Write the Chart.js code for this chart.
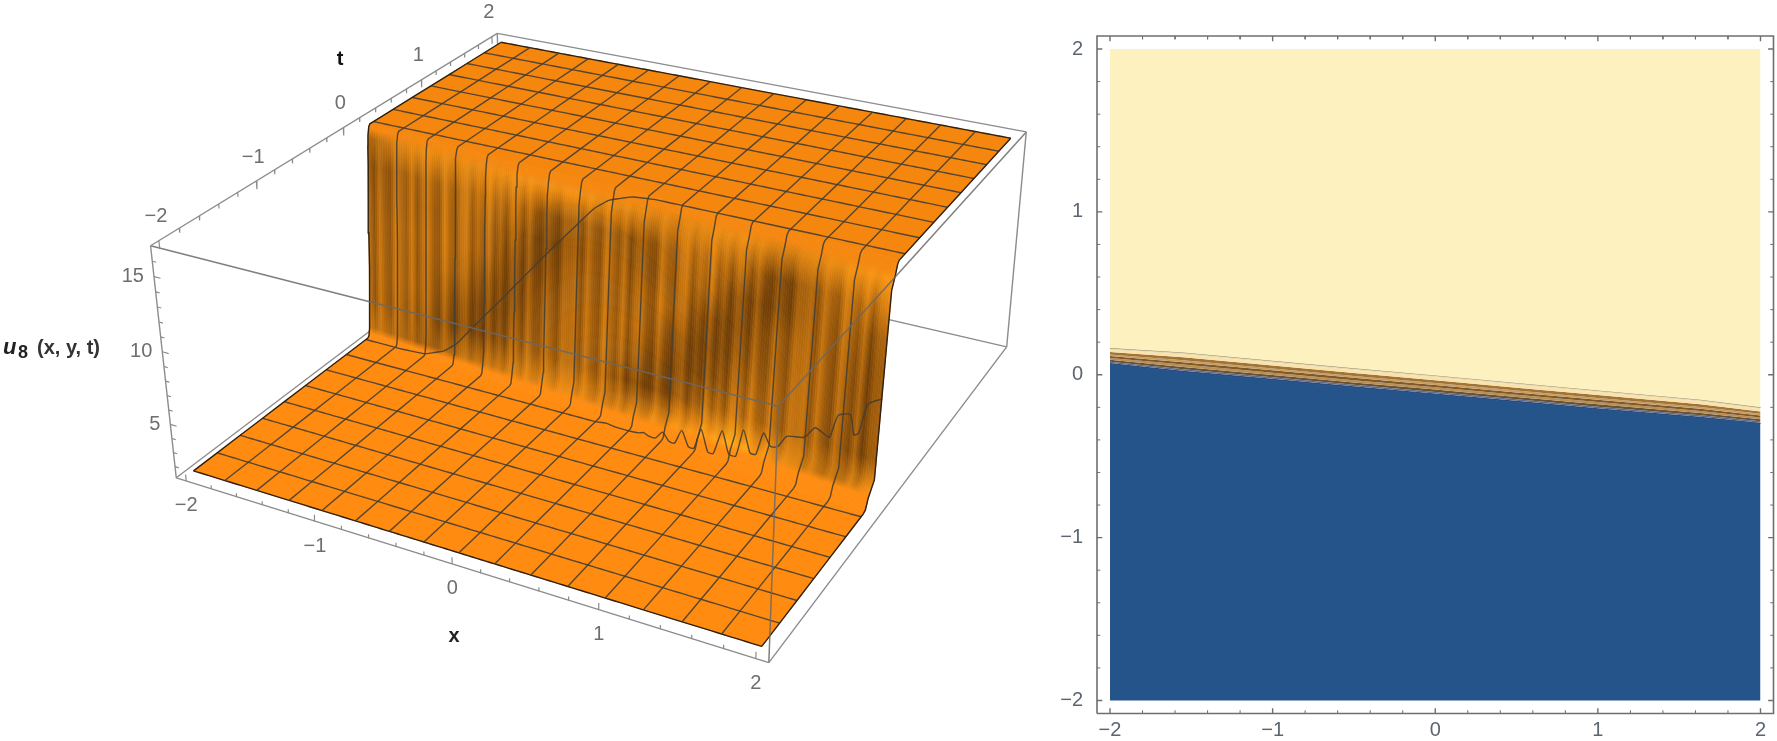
<!DOCTYPE html>
<html>
<head>
<meta charset="utf-8">
<title>u8 surface and contour</title>
<script src="https://cdn.jsdelivr.net/npm/chart.js@4"></script>
<style>
html, body { margin: 0; background: #fff; overflow: hidden; }
canvas { position: absolute; top: 0; }
</style>
</head>
<body>
<canvas id="surface" width="1040" height="741" style="left:0"></canvas>
<canvas id="contour" width="737" height="741" style="left:1040px"></canvas>
<script>
// Ticks
const majorTicks = [-2, -1, 0, 1, 2];
const minorTicks = [-2, -1.8, -1.6, -1.4, -1.2, -1, -0.8, -0.6, -0.4, -0.2, 0, 0.2, 0.4, 0.6, 0.8, 1, 1.2, 1.4, 1.6, 1.8, 2];
const uMajorTicks = [5, 10, 15];
const uMinorTicks = [2, 3, 4, 5, 6, 7, 8, 9, 10, 11, 12, 13, 14, 15, 16];

// Mesh lines of the surface
const gridX = [-2, -1.75, -1.5, -1.25, -1, -0.75, -0.5, -0.25, 0, 0.25, 0.5, 0.75, 1, 1.25, 1.5, 1.75, 2];
const gridT = [-2, -1.75, -1.5, -1.25, -1, -0.75, -0.5, -0.25, 0, 0.25, 0.5, 0.75, 1, 1.25, 1.5, 1.75, 2];

// Where the step sits
const frontX = [-2, -1.5, -1, -0.5, 0, 0.5, 1, 1.5, 2];
const frontT = [0.115, 0.075, 0.028, -0.017, -0.062, -0.107, -0.152, -0.197, -0.25];
// The foot of the step gets wider towards x = 2
const frontSpread = [1, 1, 1.1, 1.25, 1.5, 1.75, 2, 2.2, 2.4];

// Shape of the step, u against distance from the front
const stepOffset = [-0.09, -0.075, -0.06, -0.05, -0.04, -0.02, 0, 0.02, 0.04, 0.05, 0.06, 0.075, 0.09];
const stepU = [1.5, 1.6, 2.2, 3, 4.2, 6.6, 9.1, 11.6, 14, 15.2, 16, 16.55, 16.7];

// The noisy mesh line at t = -0.25
const wiggleX = [0, 0.08, 0.16, 0.28, 0.33, 0.36, 0.4, 0.45, 0.5, 0.55, 0.59, 0.64, 0.69, 0.73, 0.78, 0.83, 0.87, 0.93, 0.98, 1.03, 1.08, 1.13, 1.17, 1.22, 1.27, 1.32, 1.38, 1.5, 1.57, 1.64, 1.67, 1.72, 1.8, 1.83, 1.86, 1.91, 2];
const wiggleU = [1.5, 1.6, 1.5, 1.5, 1.55, 1.65, 1.5, 1.5, 2.05, 1.5, 1.5, 2.55, 1.5, 1.5, 3, 1.5, 1.5, 3.3, 1.75, 1.75, 3.75, 2.25, 2.25, 3.9, 3.1, 3.2, 4.1, 4.35, 5.2, 4.9, 4.8, 6.45, 6.7, 5.4, 5.6, 7.7, 8.3];

// Brightness of the wall, one row per height, one column per gridX
const wallZ = [2, 4, 6, 8, 10, 12, 14, 16];
const wallShade = [
    [.6, .5, .35, .5, .6, .7, .8, .8, .7, .75, .85, 1, 1.15, .9, .7, .55, .85],
    [.4, .44, .36, .12, .12, .36, .44, .44, .4, .08, .16, .44, .56, .48, .44, .28, .16],
    [.4, .48, .44, .24, .1, .2, .4, .4, .48, .32, .1, .16, .4, .44, .44, .32, .2],
    [.4, .48, .44, .44, .24, .1, .32, .4, .44, .44, .24, .08, .24, .36, .44, .32, .16],
    [.36, .48, .48, .48, .44, .16, .16, .36, .44, .4, .48, .16, .12, .32, .4, .36, .16],
    [.32, .44, .44, .48, .48, .32, .1, .24, .44, .28, .44, .48, .12, .12, .36, .44, .24],
    [.24, .42, .5, .5, .6, .55, .25, .34, .42, .25, .5, .6, .46, .1, .38, .55, .6],
    [.4, .75, .85, .8, .85, .9, .9, .9, .85, .8, .75, .85, .85, .7, .8, .9, .95],
];
const wallStripeWeight = [.6, 1.3, 1.3, 1.3, 1.3, 1.3, 1.1, .3];
const wallStripes = [.12, -.14, .16, -.06, -.16, .18, .02, -.12, .15, -.18, .08, .14, -.1, -.16, .2, -.04, -.14, .1, .16, -.16, .04, -.1, .18, -.12, .06, -.18, .14, .1, -.14, .18, -.08, -.12, .16, -.02, -.16, .12, .08];

// Contour plot edges
const contourX = [-2, -1.55, -1, -0.5, 0, 0.5, 1, 1.63, 2];
const contourUpper = [0.164, 0.137, 0.086, 0.04, -0.004, -0.05, -0.096, -0.153, -0.2];
const contourLower = [0.066, 0.017, -0.032, -0.078, -0.122, -0.167, -0.212, -0.264, -0.3];
const bandLevels = [0, 0.1, 0.25, 0.4, 0.5, 0.62, 0.74, 0.86, 0.94, 1];
const bandColors = ['#E9DCB0', '#FDE2A8', '#A07438', '#C89E60', '#80582A', '#B98F52', '#665238', '#5E6C90', '#2A4674'];

// Box limits and where its corners land on the page
const boxX = [-2.08, 2.08];
const boxT = [-2.08, 2.08];
const boxU = [1.2, 17];
const cameraPoints = [
    [-2.08, -2.08, 1.2, 176, 478], [2.08, -2.08, 1.2, 770, 662], [-2.08, -2.08, 17, 150, 246],
    [2.08, -2.08, 17, 777, 406], [-2.08, 2.08, 17, 497, 33], [2.08, 2.08, 17, 1027, 132],
    [2.08, 2.08, 1.2, 1006, 347], [-1, -2.08, 1.2, 315, 520], [0, -2.08, 1.2, 452, 564],
    [1, -2.08, 1.2, 599, 611], [-2.08, -1, 17, 257, 181], [-2.08, 0, 17, 344, 128], [-2.08, 1, 17, 421, 80],
];

function norm(x, t, u) {
    return [(x - boxX[0]) / (boxX[1] - boxX[0]), (t - boxT[0]) / (boxT[1] - boxT[0]), (u - boxU[0]) / (boxU[1] - boxU[0])];
}

// Least squares fit of a perspective camera to cameraPoints
function fitCamera() {
    const rows = [], rhs = [];
    cameraPoints.forEach(function (p) {
        const [a, b, c] = norm(p[0], p[1], p[2]);
        const px = p[3] / 1000, py = p[4] / 1000;
        rows.push([a, b, c, 1, 0, 0, 0, 0, -px * a, -px * b, -px * c]);
        rhs.push(px);
        rows.push([0, 0, 0, 0, a, b, c, 1, -py * a, -py * b, -py * c]);
        rhs.push(py);
    });
    const n = 11;
    const m = [];
    for (let i = 0; i < n; i++) {
        m.push(new Array(n + 1).fill(0));
        rows.forEach(function (r, k) {
            for (let j = 0; j < n; j++) m[i][j] += r[i] * r[j];
            m[i][n] += r[i] * rhs[k];
        });
    }
    for (let i = 0; i < n; i++) {
        let best = i;
        for (let k = i + 1; k < n; k++) if (Math.abs(m[k][i]) > Math.abs(m[best][i])) best = k;
        [m[i], m[best]] = [m[best], m[i]];
        for (let k = 0; k < n; k++) {
            if (k === i) continue;
            const f = m[k][i] / m[i][i];
            for (let j = i; j <= n; j++) m[k][j] -= f * m[i][j];
        }
    }
    return m.map(function (r, i) { return r[n] / r[i]; });
}
const cam = fitCamera();

function project(x, t, u) {
    const [a, b, c] = norm(x, t, u);
    const d = cam[8] * a + cam[9] * b + cam[10] * c + 1;
    return {
        x: 1000 * (cam[0] * a + cam[1] * b + cam[2] * c + cam[3]) / d,
        y: 1000 * (cam[4] * a + cam[5] * b + cam[6] * c + cam[7]) / d,
    };
}

function lookup(xs, ys, v) {
    if (v <= xs[0]) return ys[0];
    for (let i = 1; i < xs.length; i++) {
        if (v <= xs[i]) return ys[i - 1] + (ys[i] - ys[i - 1]) * (v - xs[i - 1]) / (xs[i] - xs[i - 1]);
    }
    return ys[ys.length - 1];
}
const frontAt = (x) => lookup(frontX, frontT, x);
const heightAt = (x, t) => lookup(stepOffset, stepU, t - frontAt(x));

// t of the j-th step sample at x, with the tails pulled out
function stepTime(x, j) {
    const o = stepOffset[j];
    if (Math.abs(o) <= 0.05) return frontAt(x) + o;
    const spread = lookup(frontX, frontSpread, x);
    return frontAt(x) + o * (o < 0 ? spread : 1 + (spread - 1) * 0.5);
}

function mix(v) {
    v = Math.max(0, Math.min(1.2, v));
    const r = Math.min(255, 112 + 143 * v), g = 62 + 90 * v, b = 6 + 14 * v;
    return 'rgb(' + Math.round(r) + ',' + Math.round(g) + ',' + Math.round(b) + ')';
}

// Flat parts and the wall, built once and painted through the scales
const patches = [];
(function () {
    const along = [];
    for (let i = 0; i <= 32; i++) along.push(-2 + i / 8);
    const top = stepOffset.length - 1;
    const lowEdge = along.map((x) => project(x, stepTime(x, 0), stepU[0]));
    const highEdge = along.map((x) => project(x, stepTime(x, top), stepU[top]));
    patches.push({ pts: highEdge.concat([project(2, 2, 16.7), project(-2, 2, 16.7)]), color: '#F5870F' });
    patches.push({ pts: lowEdge.concat([project(2, -2, 1.5), project(-2, -2, 1.5)]), color: '#FF8C10' });

    const cols = 256;
    for (let i = 0; i < cols; i++) {
        const x0 = -2 + 4 * i / cols, x1 = -2 + 4 * (i + 1) / cols, xm = (x0 + x1) / 2;
        const left = stepOffset.map((o, j) => project(x0, stepTime(x0, j), stepU[j]));
        const right = stepOffset.map((o, j) => project(x1, stepTime(x1, j), stepU[j]));
        // Stripes blend from one table entry to the next every third column
        const n = wallStripes.length;
        const k = Math.floor(i / 3) % n, f = (i % 3) / 3;
        const stripe = wallStripes[k] * (1 - f) + wallStripes[(k + 1) % n] * f;
        const stops = [[0, '#FF8C10']];
        wallZ.forEach(function (z, r) {
            stops.push([(z - 1.5) / 15.2, mix(lookup(gridX, wallShade[r], xm) + stripe * wallStripeWeight[r])]);
        });
        stops.push([1, '#F5870F']);
        patches.push({
            pts: left.concat(right.reverse()),
            from: project(xm, frontAt(xm), 1.5),
            to: project(xm, frontAt(xm), 16.7),
            stops: stops,
        });
    }
})();

const surfacePainter = {
    id: 'surfacePainter',
    beforeDatasetDraw(chart, args) {
        if (chart.data.datasets[args.index].label !== 'surface') return;
        const ctx = chart.ctx, sx = chart.scales.x, sy = chart.scales.y;
        const px = (p) => ({ x: sx.getPixelForValue(p.x), y: sy.getPixelForValue(p.y) });
        ctx.save();
        patches.forEach(function (patch) {
            let paint = patch.color;
            if (patch.stops) {
                const a = px(patch.from), b = px(patch.to);
                paint = ctx.createLinearGradient(a.x, a.y, b.x, b.y);
                patch.stops.forEach((s) => paint.addColorStop(s[0], s[1]));
            }
            ctx.beginPath();
            patch.pts.forEach(function (p, i) {
                const q = px(p);
                if (i === 0) ctx.moveTo(q.x, q.y); else ctx.lineTo(q.x, q.y);
            });
            ctx.closePath();
            ctx.fillStyle = paint;
            ctx.strokeStyle = paint;
            ctx.lineWidth = 0.7;
            ctx.fill();
            ctx.stroke();
        });
        ctx.restore();
    },
};

function drawLabel(chart, text, p, font, color, align) {
    const ctx = chart.ctx;
    ctx.font = font;
    ctx.fillStyle = color;
    ctx.textAlign = align || 'center';
    ctx.textBaseline = 'middle';
    ctx.fillText(text, chart.scales.x.getPixelForValue(p.x), chart.scales.y.getPixelForValue(p.y));
}

const tickFont = '20px "Liberation Sans"';
const tickColor = '#6e6e6e';
const fmt = (v) => String(v).replace('-', '\u2212');

const surfaceLabels = {
    id: 'surfaceLabels',
    afterDraw(chart) {
        const ctx = chart.ctx;
        ctx.save();
        majorTicks.forEach(function (v) {
            const a = project(v, boxT[0], boxU[0]);
            drawLabel(chart, fmt(v), { x: a.x, y: a.y + 25 }, tickFont, tickColor);
            const b = project(boxX[0], v, boxU[1]);
            drawLabel(chart, fmt(v), { x: b.x - 3, y: b.y - 24 }, tickFont, tickColor);
        });
        uMajorTicks.forEach(function (v) {
            const a = project(boxX[0], boxT[0], v);
            drawLabel(chart, fmt(v), { x: a.x - 10, y: a.y }, tickFont, tickColor, 'right');
        });
        drawLabel(chart, 'x', { x: 454, y: 636 }, 'bold 20px "Liberation Sans"', '#222');
        drawLabel(chart, 't', { x: 340, y: 59 }, 'bold 20px "Liberation Sans"', '#111');
        drawLabel(chart, 'u', { x: 3, y: 348 }, 'italic bold 22px "Liberation Sans"', '#222', 'left');
        drawLabel(chart, '8', { x: 18, y: 353 }, 'bold 18px "Liberation Sans"', '#222', 'left');
        drawLabel(chart, '(x, y, t)', { x: 37, y: 348 }, 'bold 20px "Liberation Sans"', '#333', 'left');
        ctx.restore();
    },
};

function lineSet(points, color, width, order, tension) {
    return { type: 'line', data: points, borderColor: color, borderWidth: width, pointRadius: 0, fill: false, tension: tension || 0, spanGaps: false, order: order };
}

const meshColor = 'rgba(70,62,50,0.9)';
const meshEdge = '#2f2010';
const surfaceSets = [];
// Edges that the surface hides
const hiddenEdges = [
    [project(boxX[0], boxT[0], boxU[0]), project(boxX[0], boxT[1], boxU[0])],
    [project(boxX[1], boxT[1], boxU[0]), project(boxX[0], boxT[1], boxU[0])],
    [project(boxX[0], boxT[1], boxU[0]), project(boxX[0], boxT[1], boxU[1])],
];
hiddenEdges.forEach((e) => surfaceSets.push(lineSet(e, '#8c8c8c', 1.4, 6)));
surfaceSets.push({ label: 'surface', type: 'line', data: [], order: 5 });

gridX.forEach(function (x) {
    const ts = stepOffset.map((o, j) => stepTime(x, j));
    const pts = gridT.filter((t) => t < ts[0]).map((t) => project(x, t, stepU[0]));
    ts.forEach((t, j) => pts.push(project(x, t, stepU[j])));
    gridT.filter((t) => t > ts[ts.length - 1]).forEach((t) => pts.push(project(x, t, 16.7)));
    const edge = x === -2 || x === 2;
    surfaceSets.push(lineSet(pts, edge ? meshEdge : meshColor, 1.4, 4));
});
gridT.forEach(function (t) {
    const pts = [];
    for (let i = 0; i <= 128; i++) {
        const x = -2 + i / 32;
        if (t === -0.25 && x >= 0) break;
        pts.push(project(x, t, heightAt(x, t)));
    }
    if (t === -0.25) wiggleX.forEach((x, i) => pts.push(project(x, t, wiggleU[i])));
    const edge = t === -2 || t === 2;
    surfaceSets.push(lineSet(pts, edge ? meshEdge : meshColor, 1.4, 4, t === -0.25 ? 0.2 : 0));
});

// Edges drawn in front
const frontEdges = [
    [[boxX[0], boxT[0], boxU[0]], [boxX[1], boxT[0], boxU[0]]],
    [[boxX[0], boxT[0], boxU[0]], [boxX[0], boxT[0], boxU[1]]],
    [[boxX[1], boxT[1], boxU[0]], [boxX[1], boxT[1], boxU[1]]],
    [[boxX[1], boxT[0], boxU[0]], [boxX[1], boxT[1], boxU[0]]],
    [[boxX[0], boxT[1], boxU[1]], [boxX[1], boxT[1], boxU[1]]],
    [[boxX[0], boxT[0], boxU[1]], [boxX[0], boxT[1], boxU[1]]],
];
frontEdges.forEach((e) => surfaceSets.push(lineSet(e.map((c) => project(c[0], c[1], c[2])), '#8c8c8c', 1.4, 2)));
const overEdges = [
    [[boxX[0], boxT[0], boxU[1]], [boxX[1], boxT[0], boxU[1]]],
    [[boxX[1], boxT[0], boxU[1]], [boxX[1], boxT[1], boxU[1]]],
    [[boxX[1], boxT[0], boxU[1]], [boxX[1], boxT[0], boxU[0]]],
];
overEdges.forEach((e) => surfaceSets.push(lineSet(e.map((c) => project(c[0], c[1], c[2])), 'rgba(105,105,105,0.85)', 1.5, 2)));

// Axis ticks on the box
const boxTicks = [];
minorTicks.forEach(function (v) {
    const big = majorTicks.includes(v);
    boxTicks.push(project(v, boxT[0], boxU[0]), project(v, boxT[0], boxU[0] + (big ? 0.45 : 0.25)), { x: null, y: null });
    boxTicks.push(project(boxX[0], v, boxU[1]), project(boxX[0], v, boxU[1] - (big ? 0.55 : 0.3)), { x: null, y: null });
});
uMinorTicks.forEach(function (v) {
    const big = uMajorTicks.includes(v);
    boxTicks.push(project(boxX[0], boxT[0], v), project(boxX[0] + (big ? 0.05 : 0.03), boxT[0], v), { x: null, y: null });
});
surfaceSets.push(lineSet(boxTicks, '#8c8c8c', 1.2, 1));

new Chart(document.getElementById('surface'), {
    type: 'line',
    data: { datasets: surfaceSets },
    plugins: [surfacePainter, surfaceLabels],
    options: {
        responsive: false,
        animation: false,
        layout: { padding: 0 },
        plugins: { legend: { display: false }, tooltip: { enabled: false } },
        scales: {
            x: { type: 'linear', min: 0, max: 1040, display: false },
            y: { type: 'linear', min: 0, max: 741, reverse: true, display: false },
        },
    },
});

// Contour plot
const contourSets = [];
const curve = (f) => contourX.map((x, i) => ({ x: x, y: contourUpper[i] + f * (contourLower[i] - contourUpper[i]) }));
contourSets.push({ data: curve(0), borderWidth: 0, pointRadius: 0, backgroundColor: '#FDF1BF', fill: { value: 2 } });
contourSets.push({ data: curve(1), borderWidth: 0, pointRadius: 0, backgroundColor: '#25548A', fill: { value: -2 } });
bandLevels.forEach(function (f, i) {
    const last = i === bandLevels.length - 1;
    contourSets.push({
        data: curve(f),
        borderWidth: i === 0 || last ? 1 : 0,
        borderColor: i === 0 ? '#8E866C' : '#1E3A68',
        pointRadius: 0,
        backgroundColor: last ? 'transparent' : bandColors[i],
        fill: last ? false : '+1',
    });
});

const frameX = boxX, frameY = boxT;
const frameColor = '#6f6f6f';
contourSets.push({
    data: [{ x: frameX[0], y: frameY[0] }, { x: frameX[1], y: frameY[0] }, { x: frameX[1], y: frameY[1] }, { x: frameX[0], y: frameY[1] }, { x: frameX[0], y: frameY[0] }],
    borderColor: frameColor, borderWidth: 1.6, pointRadius: 0, fill: false, clip: false,
});
const majorMarks = [], minorMarks = [];
minorTicks.forEach(function (v) {
    const big = majorTicks.includes(v);
    const marks = big ? majorMarks : minorMarks;
    const len = big ? 0.033 : 0.02;
    marks.push({ x: v, y: frameY[0] }, { x: v, y: frameY[0] + len }, { x: null, y: null });
    marks.push({ x: v, y: frameY[1] }, { x: v, y: frameY[1] - len }, { x: null, y: null });
    marks.push({ x: frameX[0], y: v }, { x: frameX[0] + len, y: v }, { x: null, y: null });
    marks.push({ x: frameX[1], y: v }, { x: frameX[1] - len, y: v }, { x: null, y: null });
});
contourSets.push({ data: majorMarks, borderColor: frameColor, borderWidth: 1.4, pointRadius: 0, fill: false, spanGaps: false, clip: false });
contourSets.push({ data: minorMarks, borderColor: frameColor, borderWidth: 1, pointRadius: 0, fill: false, spanGaps: false, clip: false });

const axisTicks = (scale) => { scale.ticks = majorTicks.map((v) => ({ value: v })); };
const axisLabelColor = '#5c6570';

new Chart(document.getElementById('contour'), {
    type: 'line',
    data: { datasets: contourSets },
    options: {
        responsive: false,
        animation: false,
        layout: { padding: { top: 36, right: 3.5, left: 0, bottom: 0 } },
        plugins: { legend: { display: false }, tooltip: { enabled: false } },
        scales: {
            x: {
                type: 'linear', min: frameX[0], max: frameX[1],
                afterBuildTicks: axisTicks,
                afterFit(scale) { scale.height = 27.5; },
                border: { display: false },
                grid: { display: false, drawTicks: false },
                ticks: {
                    autoSkip: false, maxRotation: 0, padding: 5, color: axisLabelColor,
                    font: { family: 'Liberation Sans', size: 20 },
                    callback: fmt,
                },
            },
            y: {
                type: 'linear', min: frameY[0], max: frameY[1],
                afterBuildTicks: axisTicks,
                afterFit(scale) { scale.width = 57; },
                border: { display: false },
                grid: { display: false },
                ticks: {
                    autoSkip: false, padding: 6, color: axisLabelColor,
                    font: { family: 'Liberation Sans', size: 20 },
                    callback: fmt,
                },
            },
        },
    },
});
</script>
</body>
</html>
